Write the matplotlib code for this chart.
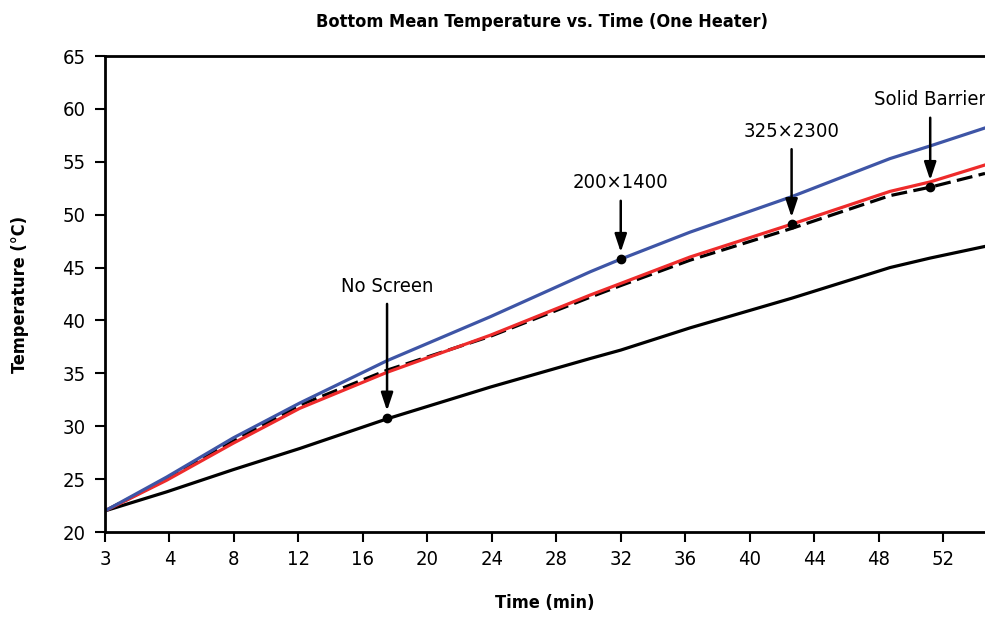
import matplotlib
matplotlib.use("Agg")
import matplotlib.pyplot as plt

plt.rcParams['font.family'] = ['DejaVu Sans']
plt.rcParams['font.stretch'] = 'condensed'

# time axis (axis units, first tick is labelled "3")
tick_pos = [0, 4, 8, 12, 16, 20, 24, 28, 32, 36, 40, 44, 48, 52]
tick_labels = ['3', '4', '8', '12', '16', '20', '24', '28', '32', '36', '40', '44', '48', '52']

t = [0, 3.83, 7.96, 12.09, 17.5, 23.9, 30.1, 32.0, 36.3, 42.6, 48.7, 51.2, 54.6]

blue_200x1400 = [22.0, 25.2, 28.9, 32.2, 36.2, 40.35, 44.6, 45.8, 48.35, 51.7, 55.3, 56.5, 58.2]
red_325x2300 = [22.0, 24.9, 28.4, 31.7, 35.1, 38.6, 42.4, 43.5, 46.0, 49.1, 52.2, 53.1, 54.7]
solid_barrier = [22.0, 25.0, 28.6, 32.0, 35.3, 38.5, 42.2, 43.3, 45.7, 48.7, 51.8, 52.6, 53.9]
no_screen = [22.0, 23.8, 25.9, 27.9, 30.7, 33.7, 36.4, 37.2, 39.3, 42.1, 45.0, 45.9, 47.0]

# annotations: label, x, y, offset (pt)
notes = [
    ('No Screen', 17.5, 30.8, 88),
    ('200\u00d71400', 32.0, 45.8, 48),
    ('325\u00d72300', 42.6, 49.1, 60),
    ('Solid Barrier', 51.2, 52.6, 56),
]

fig = plt.figure(figsize=(9.85, 6.19), dpi=100)
ax = fig.add_axes([0.1066, 0.1405, 0.8934, 0.769])

ax.plot(t, no_screen, color='black', lw=2.3)
ax.plot(t, solid_barrier, color='black', lw=2.3, dashes=(5, 2))
ax.plot(t, red_325x2300, color='#ee2b2b', lw=2.3)
ax.plot(t, blue_200x1400, color='#3e55a6', lw=2.3)

for label, x, y, off in notes:
    ax.plot([x], [y], 'o', color='black', markersize=6, zorder=5)
    ax.annotate(label, xy=(x, y), xytext=(0, off), textcoords='offset points',
                ha='center', va='bottom', fontsize=14.5,
                arrowprops=dict(arrowstyle='-|>,head_length=0.75,head_width=0.25',
                                color='black', lw=1.8, shrinkA=4, shrinkB=5))

ax.set_xlim(0, 54.6)
ax.set_ylim(20, 65)
ax.set_xticks(tick_pos)
ax.set_xticklabels(tick_labels)
ax.set_yticks(range(20, 66, 5))
ax.tick_params(axis='both', direction='out', length=7, width=1.5, labelsize=14.5)
ax.tick_params(axis='x', pad=6)
ax.tick_params(axis='y', pad=7)

ax.spines['right'].set_visible(False)
for s in ['left', 'bottom', 'top']:
    ax.spines[s].set_linewidth(2.0)

ax.set_xlabel('Time (min)', fontsize=13, fontweight='bold', labelpad=18)
ax.set_ylabel('Temperature (°C)', fontsize=13, fontweight='bold', labelpad=24)
fig.text(0.55, 0.964, 'Bottom Mean Temperature vs. Time (One Heater)',
         ha='center', va='center', fontsize=13, fontweight='bold')

fig.savefig('out.png', dpi=100)
